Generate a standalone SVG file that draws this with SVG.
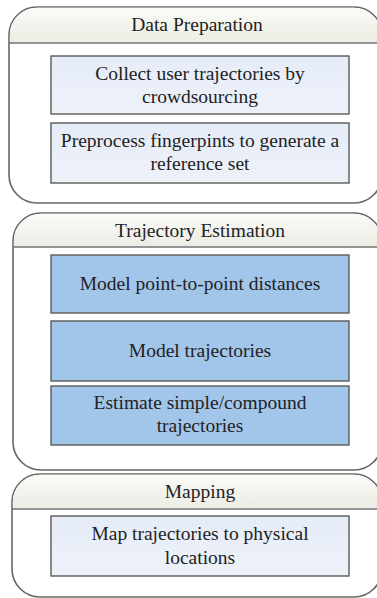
<svg xmlns="http://www.w3.org/2000/svg" width="377" height="598" viewBox="0 0 377 598">
  <defs>
    <linearGradient id="hdr" x1="0" y1="0" x2="0" y2="1">
      <stop offset="0" stop-color="#fafaf7"/>
      <stop offset="1" stop-color="#ededE6"/>
    </linearGradient>
    <linearGradient id="pale" x1="0" y1="0" x2="0" y2="1">
      <stop offset="0" stop-color="#e6ecf8"/>
      <stop offset="1" stop-color="#edf2f9"/>
    </linearGradient>
  </defs>
  <style>
    .frame { fill: #ffffff; stroke: #666666; stroke-width: 1.6; }
    .head { fill: url(#hdr); stroke: none; }
    .rule { stroke: #707070; stroke-width: 1.6; fill: none; }
    .step { stroke: #5a5a5a; stroke-width: 1.4; }
    .light { fill: url(#pale); }
    .dark { fill: #a2c5ea; }
    text { font-family: "Liberation Serif", "Times New Roman", serif; font-size: 19.5px; fill: #222222; text-anchor: middle; }
  </style>

  <!-- Stage 1 -->
  <g id="data-preparation">
    <rect class="frame" x="9" y="7" width="373" height="196" rx="28" ry="28"/>
    <path class="head" d="M9.8,42 V35 A27.2,27.2 0 0 1 37,7.8 H354 A27.2,27.2 0 0 1 381.2,35 V42 Z"/>
    <line class="rule" x1="9" y1="43" x2="382" y2="43"/>
    <text x="197" y="31">Data Preparation</text>
    <g id="collect">
      <rect class="step light" x="51" y="56" width="298" height="58"/>
      <text x="200" y="80">Collect user trajectories by</text>
      <text x="200" y="103">crowdsourcing</text>
    </g>
    <g id="preprocess">
      <rect class="step light" x="51" y="123" width="298" height="60"/>
      <text x="200" y="147">Preprocess fingerpints to generate a</text>
      <text x="200" y="170">reference set</text>
    </g>
  </g>

  <!-- Stage 2 -->
  <g id="trajectory-estimation">
    <rect class="frame" x="13" y="213" width="369" height="257" rx="28" ry="28"/>
    <path class="head" d="M13.8,246 V241 A27.2,27.2 0 0 1 41,213.8 H354 A27.2,27.2 0 0 1 381.2,241 V246 Z"/>
    <line class="rule" x1="13" y1="247" x2="382" y2="247"/>
    <text x="200" y="237">Trajectory Estimation</text>
    <g id="model-distances">
      <rect class="step dark" x="51" y="255" width="298" height="58"/>
      <text x="200" y="290">Model point-to-point distances</text>
    </g>
    <g id="model-trajectories">
      <rect class="step dark" x="51" y="321" width="298" height="60"/>
      <text x="200" y="357">Model trajectories</text>
    </g>
    <g id="estimate">
      <rect class="step dark" x="51" y="386" width="298" height="59"/>
      <text x="200" y="409">Estimate simple/compound</text>
      <text x="200" y="432">trajectories</text>
    </g>
  </g>

  <!-- Stage 3 -->
  <g id="mapping">
    <rect class="frame" x="12" y="474" width="370" height="123" rx="28" ry="28"/>
    <path class="head" d="M12.8,508 V502 A27.2,27.2 0 0 1 40,474.8 H354 A27.2,27.2 0 0 1 381.2,502 V508 Z"/>
    <line class="rule" x1="12" y1="509" x2="382" y2="509"/>
    <text x="200" y="498">Mapping</text>
    <g id="map-locations">
      <rect class="step light" x="51" y="516" width="298" height="60"/>
      <text x="200" y="540">Map trajectories to physical</text>
      <text x="200" y="564">locations</text>
    </g>
  </g>

  <!-- stages are stacked without connectors -->
  <g id="connectors"/>
</svg>
